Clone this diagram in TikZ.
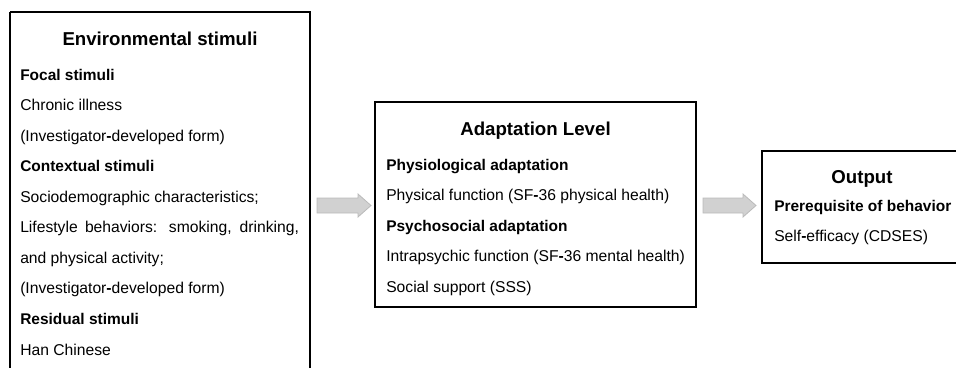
\documentclass[tikz,border=0pt]{standalone}
\usepackage{fontspec}
\setmainfont{Liberation Sans}
\usetikzlibrary{fit,calc}
\newcommand{\hyb}{{\bfseries -}}
\newcommand{\blockarrow}[2]{%
  \filldraw[arrowst] ($(#1)+(0,-7.5)$) -- ($(#2)+(-13,-7.5)$) -- ($(#2)+(-13,-11.5)$) -- (#2)
    -- ($(#2)+(-13,11.5)$) -- ($(#2)+(-13,7.5)$) -- ($(#1)+(0,7.5)$) -- cycle;}
\begin{document}
\begin{tikzpicture}[x=0.75pt,y=-0.75pt,
  frame/.style={draw=black,line width=0.8pt},
  boxtitle/.style={font=\fontsize{14}{16}\selectfont\bfseries,anchor=base,inner sep=0},
  boxhead/.style={font=\fontsize{11.6}{14}\selectfont\bfseries,anchor=base west,inner sep=0},
  boxbody/.style={font=\fontsize{11.75}{14}\selectfont,anchor=base west,inner sep=0},
  arrowst/.style={fill=black!18,draw=black!27,line width=0.6pt},
  region/.style={inner sep=0,outer sep=0}]
\useasboundingbox (0,0) rectangle (956,368);

% regions
\node[region,fit={(10,12) (310,368)}] (env) {};
\node[region,fit={(375,102) (696,307)},frame] (adapt) {};
\node[region,fit={(762,151) (956,263)}] (out) {};

% open frames
\draw[frame] (env.south east) -- (env.north east) -- (env.north west);
\draw[draw=black,line width=1.3pt] (env.north west) -- (env.south west);
\draw[frame] (out.north east) -- (out.north west) -- (out.south west) -- (out.south east);

% environmental stimuli
\node[boxtitle] (t1) at (160,45) {Environmental stimuli};
\node[boxhead] (e1) at (20,80) {Focal stimuli};
\node[boxbody] (e2) at (20,110.5) {Chronic illness};
\node[boxbody] (e3) at (20,141) {(Investigator\hyb developed form)};
\node[boxhead] (e4) at (20,171.5) {Contextual stimuli};
\node[boxbody] (e5) at (20,202) {Sociodemographic characteristics;};
\node[boxbody] (e6) at (20,232.5) {\makebox[209pt][s]{Lifestyle behaviors: smoking, drinking,}};
\node[boxbody] (e7) at (20,263) {and physical activity;};
\node[boxbody] (e8) at (20,293.5) {(Investigator\hyb developed form)};
\node[boxhead] (e9) at (20,324.5) {Residual stimuli};
\node[boxbody] (e10) at (20,355) {Han Chinese};

% adaptation level
\node[boxtitle] (t2) at (535.5,135) {Adaptation Level};
\node[boxhead] (a1) at (386,170) {Physiological adaptation};
\node[boxbody] (a2) at (386,200.5) {Physical function (SF\hyb 36 physical health)};
\node[boxhead] (a3) at (386,231) {Psychosocial adaptation};
\node[boxbody] (a4) at (386,261.5) {Intrapsychic function (SF\hyb 36 mental health)};
\node[boxbody] (a5) at (386,292) {Social support (SSS)};

% output
\node[boxtitle] (t3) at (862,183) {Output};
\node[boxhead] (o1) at (774,211.5) {Prerequisite of behavior};
\node[boxbody] (o2) at (774,241) {Self\hyb efficacy (CDSES)};

% block arrows
\coordinate (p1s) at (317,205.5);
\coordinate (p1e) at (371,205.5);
\coordinate (p2s) at (703,205.5);
\coordinate (p2e) at (756,205.5);
\blockarrow{p1s}{p1e}
\blockarrow{p2s}{p2e}
\end{tikzpicture}
\end{document}
